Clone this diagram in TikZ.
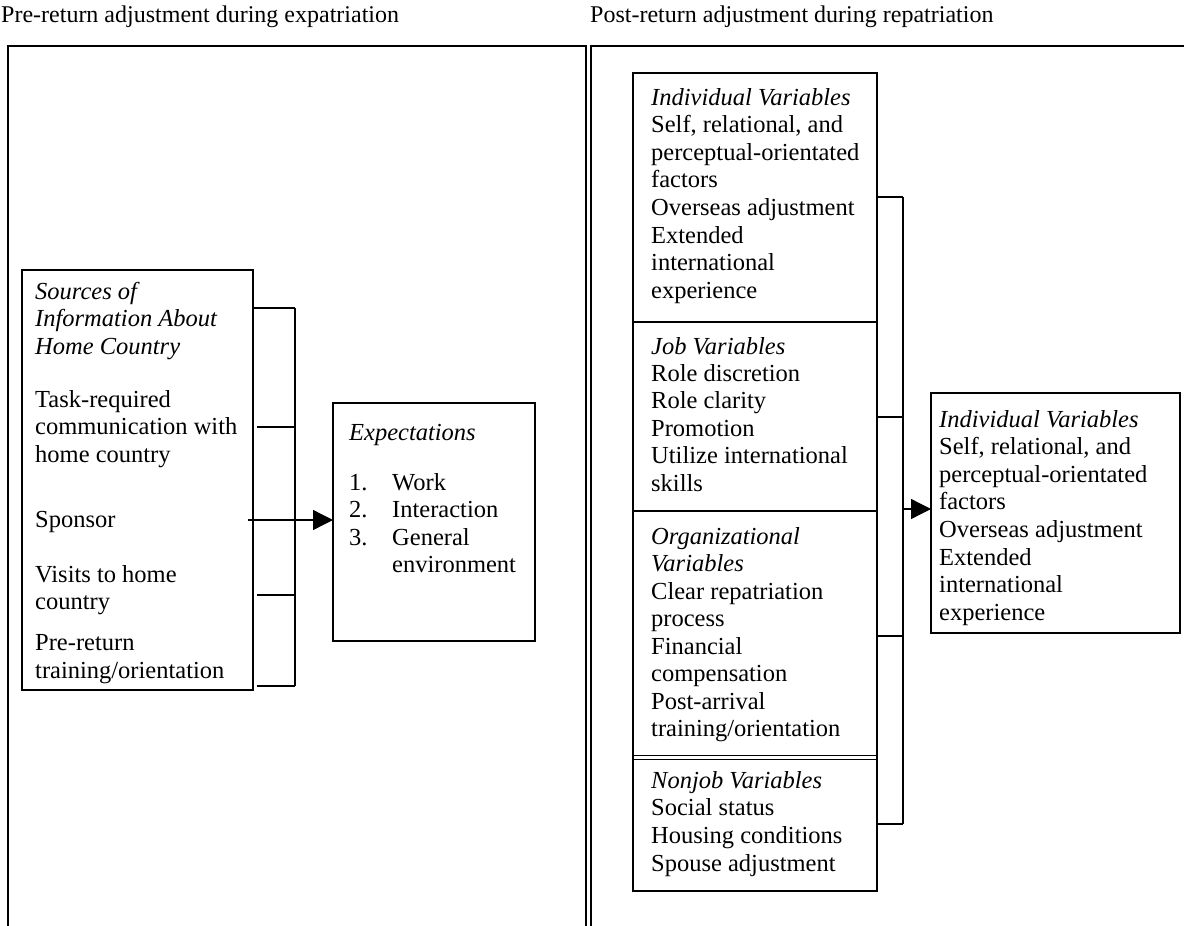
\documentclass[tikz,border=0pt]{standalone}
\usepackage{fontspec}
\setmainfont{Liberation Serif}
\usetikzlibrary{arrows.meta}
\tikzset{
  x=1pt, y=-1pt,
  frame/.style={line width=2.2pt},
  box/.style={draw, line width=1.2pt, inner sep=0pt, outer sep=0pt, anchor=north west},
  txt/.style={inner sep=0pt, anchor=base west, font=\fontsize{24.5}{27.6}\selectfont},
  ttl/.style={inner sep=0pt, anchor=base west, font=\fontsize{24}{27.6}\selectfont},
  conn/.style={line width=1.3pt},
  arr/.style={line width=1.3pt, -{Triangle[length=20pt,width=20pt]}},
}
\begin{document}
\begin{tikzpicture}
\useasboundingbox (0,0) rectangle (1184,926);
\clip (0,0) rectangle (1184,926);
\fill[white] (0,0) rectangle (1184,926);
% titles
\node[ttl] (t1) at (1,22) {Pre-return adjustment during expatriation};
\node[ttl] (t2) at (590,22) {Post-return adjustment during repatriation};
% frames
\draw[frame] (8,46) rectangle (586,960);
\draw[frame] (591,46) rectangle (1230,960);
% left boxes
\node[box, minimum width=231pt, minimum height=420pt] (src) at (22,270) {};
\node[txt] (s1) at (35,299) {\itshape Sources of};
\node[txt] (s2) at (35,326.6) {\itshape Information About};
\node[txt] (s3) at (35,354.2) {\itshape Home Country};
\node[txt] (s4) at (35,407) {Task-required};
\node[txt] (s5) at (35,434.6) {communication with};
\node[txt] (s6) at (35,462.2) {home country};
\node[txt] (s7) at (35,527) {Sponsor};
\node[txt] (s8) at (35,582) {Visits to home};
\node[txt] (s9) at (35,609.6) {country};
\node[txt] (s10) at (35,650.5) {Pre-return};
\node[txt] (s11) at (35,678) {training/orientation};
\node[box, minimum width=202pt, minimum height=238pt] (exp) at (333,403) {};
\node[txt] (e0) at (349,440) {\itshape Expectations};
\node[txt] (e1n) at (349,490) {1.};
\node[txt] (e1) at (392,490) {Work};
\node[txt] (e2n) at (349,517.6) {2.};
\node[txt] (e2) at (392,517.6) {Interaction};
\node[txt] (e3n) at (349,545.2) {3.};
\node[txt] (e3) at (392,545.2) {General};
\node[txt] (e4) at (392,572.8) {environment};
% left bracket
\coordinate (lb1) at (295,308);
\coordinate (lb2) at (295,427);
\coordinate (lb3) at (295,520);
\coordinate (lb4) at (295,595);
\coordinate (lb5) at (295,686);
\draw[conn] (lb1) -- (lb5);
\draw[conn] (src.east |- lb1) -- (lb1);
\draw[conn] ([xshift=4pt]src.east |- lb2) -- (lb2);
\draw[conn] ([xshift=4pt]src.east |- lb4) -- (lb4);
\draw[conn] ([xshift=4pt]src.east |- lb5) -- (lb5);
\draw[arr] ([xshift=-5pt]src.east |- lb3) -- (exp.west |- lb3);
% right stacked box
\node[box, minimum width=244pt, minimum height=818pt] (stk) at (633,73) {};
\draw[line width=1.2pt] (stk.west |- 0,322) -- (stk.east |- 0,322);
\draw[line width=2.2pt] (stk.west |- 0,511) -- (stk.east |- 0,511);
\draw[line width=1pt] (stk.west |- 0,755.5) -- (stk.east |- 0,755.5);
\draw[line width=1pt] (stk.west |- 0,759.5) -- (stk.east |- 0,759.5);
\node[txt] (a1) at (651,105) {\itshape Individual Variables};
\node[txt] (a2) at (651,132.6) {Self, relational, and};
\node[txt] (a3) at (651,160.2) {perceptual-orientated};
\node[txt] (a4) at (651,187.8) {factors};
\node[txt] (a5) at (651,215.4) {Overseas adjustment};
\node[txt] (a6) at (651,243) {Extended};
\node[txt] (a7) at (651,270.6) {international};
\node[txt] (a8) at (651,298.2) {experience};
\node[txt] (b1) at (651,354) {\itshape Job Variables};
\node[txt] (b2) at (651,381.4) {Role discretion};
\node[txt] (b3) at (651,408.8) {Role clarity};
\node[txt] (b4) at (651,436.2) {Promotion};
\node[txt] (b5) at (651,463.6) {Utilize international};
\node[txt] (b6) at (651,491) {skills};
\node[txt] (c1) at (651,544) {\itshape Organizational};
\node[txt] (c2) at (651,571.5) {\itshape Variables};
\node[txt] (c3) at (651,599) {Clear repatriation};
\node[txt] (c4) at (651,626.5) {process};
\node[txt] (c5) at (651,654) {Financial};
\node[txt] (c6) at (651,681.5) {compensation};
\node[txt] (c7) at (651,709) {Post-arrival};
\node[txt] (c8) at (651,736.5) {training/orientation};
\node[txt] (d1) at (651,788) {\itshape Nonjob Variables};
\node[txt] (d2) at (651,815.5) {Social status};
\node[txt] (d3) at (651,843) {Housing conditions};
\node[txt] (d4) at (651,871) {Spouse adjustment};
% right result box
\node[box, minimum width=249pt, minimum height=240pt] (res) at (931,393) {};
\node[txt] (r1) at (939,427) {\itshape Individual Variables};
\node[txt] (r2) at (939,454.6) {Self, relational, and};
\node[txt] (r3) at (939,482.2) {perceptual-orientated};
\node[txt] (r4) at (939,509.8) {factors};
\node[txt] (r5) at (939,537.4) {Overseas adjustment};
\node[txt] (r6) at (939,565) {Extended};
\node[txt] (r7) at (939,592.6) {international};
\node[txt] (r8) at (939,620.2) {experience};
% right bracket
\coordinate (rb1) at (903,197);
\coordinate (rb2) at (903,417);
\coordinate (rb3) at (903,509);
\coordinate (rb4) at (903,636);
\coordinate (rb5) at (903,824);
\draw[conn] (rb1) -- (rb5);
\draw[conn] (stk.east |- rb1) -- (rb1);
\draw[conn] (stk.east |- rb2) -- (rb2);
\draw[conn] (stk.east |- rb4) -- (rb4);
\draw[conn] (stk.east |- rb5) -- (rb5);
\draw[arr] (rb3) -- (res.west |- rb3);
\end{tikzpicture}
\end{document}
